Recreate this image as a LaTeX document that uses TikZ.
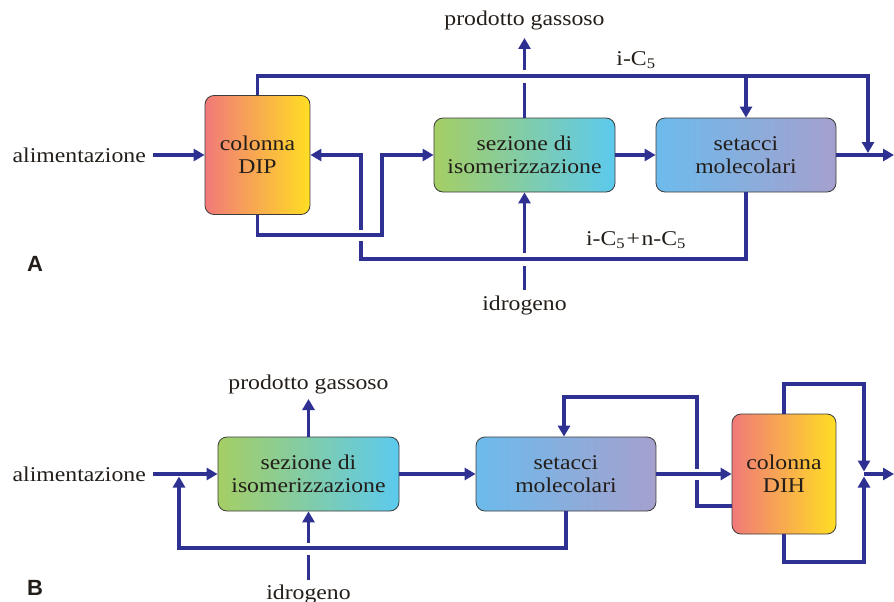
\documentclass[tikz,border=0pt]{standalone}
\usepackage{fontspec}
\setmainfont[FakeStretch=1.13]{Liberation Serif}
\newfontfamily\panelfont{Liberation Sans}
\usetikzlibrary{arrows.meta}
\definecolor{flowc}{RGB}{46,49,146}
\definecolor{txt}{RGB}{35,30,25}
\definecolor{boxedge}{RGB}{60,60,60}
\definecolor{colL}{RGB}{241,121,121}
\definecolor{colR}{RGB}{255,222,35}
\definecolor{sezL}{RGB}{165,206,100}
\definecolor{sezR}{RGB}{92,202,238}
\definecolor{setL}{RGB}{108,187,236}
\definecolor{setR}{RGB}{165,160,206}
\begin{document}
\begin{tikzpicture}[x=1pt,y=-1pt,
  box/.style={draw=boxedge, line width=0.8pt, rounded corners=9pt, align=center,
    font=\fontsize{21}{23}\selectfont, text=txt, inner sep=0pt},
  column/.style={box, minimum width=105pt, minimum height=119pt, left color=colL, right color=colR},
  sezbox/.style={box, minimum width=181pt, minimum height=74pt, left color=sezL, right color=sezR},
  setbox/.style={box, minimum width=180pt, minimum height=74pt, left color=setL, right color=setR},
  flow/.style={draw=flowc, line width=3.6pt},
  arr/.style={flow, -{Triangle[length=11pt,width=12pt]}},
  lbl/.style={font=\fontsize{21}{23}\selectfont, text=txt, inner sep=0pt},
  panel/.style={font=\panelfont\bfseries\fontsize{22}{22}\selectfont, text=txt, inner sep=0pt}
]
\useasboundingbox (0,0) rectangle (894,602);

% ---------------- Panel A ----------------
\node[column] (dip) at (257.5,155) {colonna\\DIP};
\node[sezbox] (sezA) at (524.5,155) {sezione di\\isomerizzazione};
\node[setbox] (setA) at (746,155) {setacci\\molecolari};
\node[lbl, anchor=east] (alimA) at (146,155) {alimentazione};
\node[lbl] (prodA) at (524.5,20) {prodotto gassoso};
\node[lbl] (idrA) at (524.5,305) {idrogeno};
\node[lbl] (ic5) at (636,60) {i-C\textsubscript{5}};
\node[lbl] (icn) at (636,240) {i-C\textsubscript{5}\kern1.5pt+\kern1.5pt n-C\textsubscript{5}};
\node[panel] (labA) at (35,264) {A};

\coordinate (feedA) at (153,155);
\coordinate (topA) at (0,76);
\coordinate (jA) at (868,153);
\coordinate (outA) at (894,155);
\coordinate (prodtipA) at (524.5,38);
\coordinate (idrstartA) at (524.5,290);

\draw[arr] (feedA) -- (dip.west);
\draw[arr] (dip.north) |- (868,76) -- (jA);
\draw[arr] (setA.north |- topA) -- (setA.north);
\draw[arr] (setA.east) -- (outA);
\draw[arr] (dip.south) |- (382,235) |- (sezA.west);
\draw[arr] (setA.south) |- (361,259) -- (361,240.5) (361,229.5) |- (dip.east);
\draw[arr] (sezA.east) -- (setA.west);
\draw[arr] (sezA.north) -- (524.5,83) (524.5,70) -- (prodtipA);
\draw[arr] (idrstartA) -- (524.5,265.5) (524.5,252.5) -- (sezA.south);

% ---------------- Panel B ----------------
\node[sezbox] (sezB) at (308.5,474) {sezione di\\isomerizzazione};
\node[setbox] (setB) at (566,474) {setacci\\molecolari};
\node[column, minimum width=104pt, minimum height=120pt] (dih) at (784,474) {colonna\\DIH};
\node[lbl, anchor=east] (alimB) at (146,474) {alimentazione};
\node[lbl] (prodB) at (308.5,384) {prodotto gassoso};
\node[lbl] (idrB) at (308.5,594) {idrogeno};
\node[panel] (labB) at (35,588) {B};

\coordinate (feedB) at (153,474);
\coordinate (retB) at (179,476.5);
\coordinate (prodtipB) at (308.5,399);
\coordinate (idrstartB) at (308.5,580);
\coordinate (jBtop) at (864,471.5);
\coordinate (jBbot) at (864,476.5);
\coordinate (jB) at (864,474);
\coordinate (outB) at (894,474);

\draw[arr] (feedB) -- (sezB.west);
\draw[arr] (setB.south) |- (179,548) -- (retB);
\draw[arr] (sezB.north) -- (prodtipB);
\draw[arr] (idrstartB) -- (308.5,554.5) (308.5,542.5) -- (sezB.south);
\draw[arr] (sezB.east) -- (setB.west);
\draw[arr] (setB.east) -- (dih.west);
\draw[arr] (dih.west |- 0,506) -| (697,480) (697,468.5) |- (564,397) -- (setB.north -| 564,0);
\draw[arr] (dih.north) |- (864,384) -- (jBtop);
\draw[arr] (dih.south) |- (864,562) -- (jBbot);
\draw[arr] (jB) -- (outB);
\end{tikzpicture}
\end{document}
